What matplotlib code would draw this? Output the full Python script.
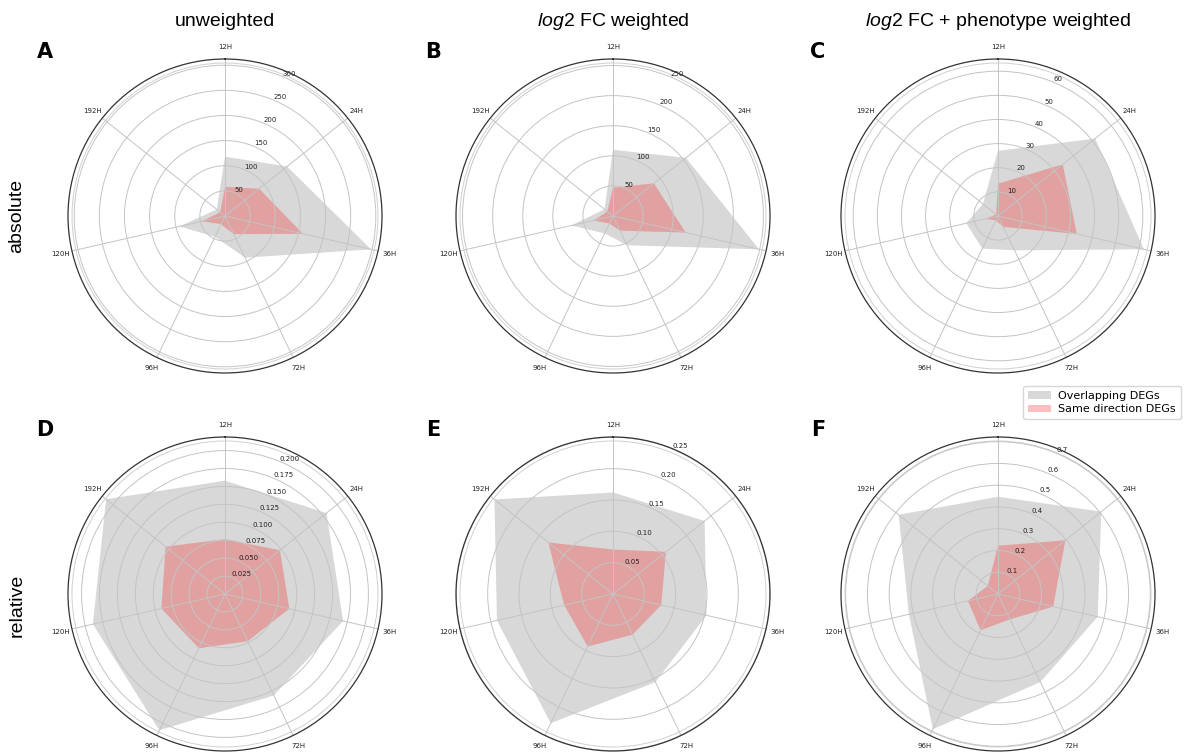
import numpy as np
import matplotlib
matplotlib.use("Agg")
import matplotlib.pyplot as plt
from matplotlib.patches import Patch, Circle
from matplotlib import font_manager

# Time points around each radar
labels = ['12H', '24H', '36H', '72H', '96H', '120H', '192H']

# absolute counts
a_overlap = [118, 158, 298, 92, 46, 93, 21]
a_same = [58, 87, 159, 40, 18, 47, 12]
b_overlap = [110, 155, 249, 54, 32, 71, 18]
b_same = [47, 87, 124, 27, 14, 33, 12]
c_overlap = [27, 51.5, 62, 15.8, 15, 13.5, 8]
c_same = [13.4, 34.3, 33.5, 5, 2, 5.3, 1]

# relative fractions
d_overlap = [0.158, 0.181, 0.169, 0.157, 0.211, 0.189, 0.212]
d_same = [0.0765, 0.098, 0.092, 0.073, 0.084, 0.091, 0.106]
e_overlap = [0.162, 0.187, 0.153, 0.156, 0.229, 0.190, 0.242]
e_same = [0.071, 0.108, 0.079, 0.072, 0.093, 0.080, 0.132]
f_overlap = [0.447, 0.607, 0.470, 0.449, 0.690, 0.420, 0.584]
f_same = [0.222, 0.396, 0.260, 0.129, 0.185, 0.142, 0.060]

col_titles = ['unweighted', r'$\mathit{log}$2 FC weighted',
              r'$\mathit{log}$2 FC + phenotype weighted']
row_titles = ['absolute', 'relative']
panel_letters = ['A', 'B', 'C', 'D', 'E', 'F']
legend_labels = ['Overlapping DEGs', 'Same direction DEGs']

panels = [(a_overlap, a_same), (b_overlap, b_same), (c_overlap, c_same),
          (d_overlap, d_same), (e_overlap, e_same), (f_overlap, f_same)]

installed = {f.name for f in font_manager.fontManager.ttflist}
head_font = 'Liberation Sans Narrow' if 'Liberation Sans Narrow' in installed else 'Liberation Sans'
plt.rcParams['mathtext.fontset'] = 'custom'
plt.rcParams['mathtext.it'] = head_font + ':italic'
plt.rcParams['mathtext.rm'] = head_font

W, H = 1184, 754
fig = plt.figure(figsize=(W / 100, H / 100), dpi=100)

centers_x = [225, 613, 998]
centers_y = [216, 594]
rad = 157

angles = np.linspace(0, 2 * np.pi, len(labels), endpoint=False)
closed = np.concatenate([angles, angles[:1]])

for i, (overlap, same) in enumerate(panels):
    r, c = divmod(i, 3)
    cx, cy = centers_x[c], centers_y[r]
    ax = fig.add_axes([(cx - rad) / W, (H - cy - rad) / H, 2 * rad / W, 2 * rad / H],
                      projection='polar')
    ax.set_theta_zero_location('N')
    ax.set_theta_direction(-1)
    ov = np.concatenate([overlap, overlap[:1]])
    sm = np.concatenate([same, same[:1]])
    ax.fill(closed, ov, color='grey', alpha=0.3, lw=0)
    ax.fill(closed, sm, color='red', alpha=0.25, lw=0)
    ax.set_thetagrids(np.degrees(angles), labels)
    ax.tick_params(axis='x', labelsize=5, pad=-2, colors='#222222')
    ax.tick_params(axis='y', labelsize=5, colors='#222222')
    ax.grid(color='#c4c4c4', lw=0.7)
    ax.spines['polar'].set_color('#333333')
    ax.spines['polar'].set_linewidth(0.9)
    ax.add_patch(Circle((0.5, 0.5), 0.5 - 4 / (2 * rad), transform=ax.transAxes,
                        fill=False, ec='#d0d0d0', lw=0.7, clip_on=False))
    fig.text((cx - 180) / W, 1 - (52 if r == 0 else 430) / H, panel_letters[i],
             fontsize=15, fontweight='bold', ha='center', va='center')

for c, t in enumerate(col_titles):
    fig.text(centers_x[c] / W, 1 - 22 / H, t, fontsize=14, family=head_font,
             ha='center', va='center')

for r, t in enumerate(row_titles):
    fig.text(17 / W, 1 - [216, 605][r] / H, t, fontsize=14, family=head_font,
             rotation=90, ha='center', va='center')

handles = [Patch(facecolor='grey', alpha=0.3, lw=0),
           Patch(facecolor='red', alpha=0.25, lw=0)]
fig.legend(handles, legend_labels, loc='upper right', fontsize=8,
           bbox_to_anchor=(1181 / W, 1 - 386 / H), borderaxespad=0,
           handlelength=2.0, handletextpad=0.7, borderpad=0.45, labelspacing=0.3)

fig.savefig('out.png', dpi=100)
